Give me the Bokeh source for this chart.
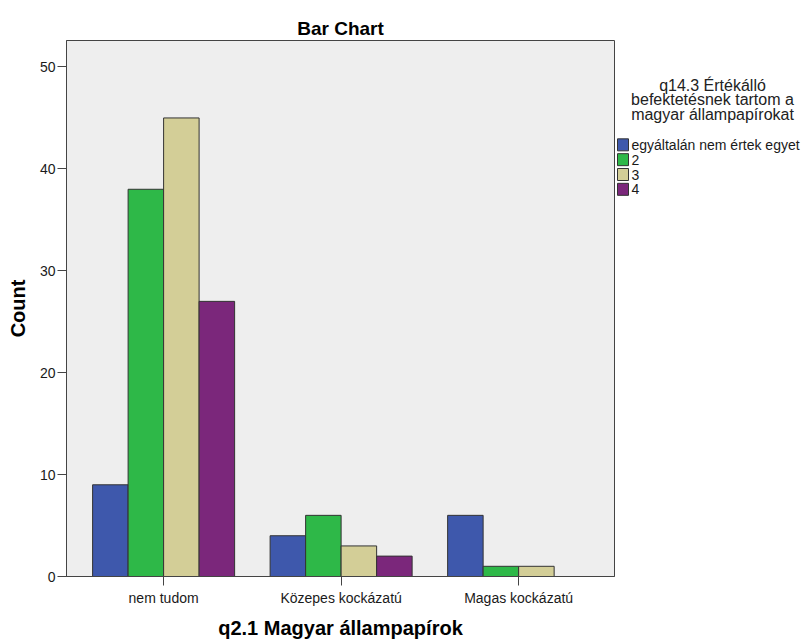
from bokeh.plotting import figure
from bokeh.layouts import row
from bokeh.models import Range1d, FixedTicker, ColumnDataSource
from bokeh.core.properties import value
from bokeh.embed import file_html
from bokeh.resources import INLINE

categories = ["nem tudom", "Közepes kockázatú", "Magas kockázatú"]
series_names = ["egyáltalán nem értek egyet", "2", "3", "4"]
s1 = [9, 4, 6]
s2 = [38, 6, 1]
s3 = [45, 3, 1]
s4 = [27, 2, None]
colors = ["#3E58AC", "#2EB848", "#D3CE97", "#7B277B"]
y_ticks = [0, 10, 20, 30, 40, 50]
legend_title_lines = ["q14.3 Értékálló", "befektetésnek tartom a", "magyar állampapírokat"]

FONT = "Liberation Sans"

p = figure(width=616, height=641, output_backend="svg", toolbar_location=None,
           x_range=Range1d(-0.547, 2.54), y_range=Range1d(0, 52.6),
           min_border_left=66, min_border_right=2, min_border_top=40, min_border_bottom=59,
           title="Bar Chart")
p.background_fill_color = "#EEEEEE"
p.border_fill_color = "white"
p.outline_line_color = "#444444"
p.outline_line_width = 1
p.xgrid.visible = False
p.ygrid.visible = False

p.title.align = "center"
p.title.text_font = FONT
p.title.text_font_size = "19px"
p.title.text_font_style = "bold"
p.title.text_color = "black"
p.title.standoff = 4

offsets = [-0.3, -0.1, 0.1, 0.3]
all_series = [s1, s2, s3, s4]
for vals, off, col in zip(all_series, offsets, colors):
    xs = [i + off for i in range(len(categories))]
    tops = [float("nan") if v is None else v for v in vals]
    src = ColumnDataSource(dict(x=xs, top=tops))
    p.vbar(x="x", top="top", bottom=0, width=0.2, source=src,
           fill_color=col, line_color="#333333", line_width=1)

p.xaxis.ticker = FixedTicker(ticks=list(range(len(categories))))
p.xaxis.major_label_overrides = {i: c for i, c in enumerate(categories)}
p.yaxis.ticker = FixedTicker(ticks=y_ticks)
for ax in (p.xaxis[0], p.yaxis[0]):
    ax.minor_tick_line_color = None
    ax.major_tick_out = 9
    ax.major_tick_in = 0
    ax.axis_line_color = "#444444"
    ax.major_tick_line_color = "#444444"
    ax.major_label_text_font = FONT
    ax.major_label_text_font_size = "14px"
    ax.major_label_text_color = "#1a1a1a"
    ax.axis_label_text_font = FONT
    ax.axis_label_text_font_size = "20px"
    ax.axis_label_text_font_style = "bold"
    ax.axis_label_text_color = "black"
p.yaxis.major_label_standoff = 2
p.xaxis.major_label_standoff = 4
p.xaxis.axis_label = "q2.1 Magyar állampapírok"
p.yaxis.axis_label = "Count"
p.xaxis.axis_label_standoff = 8
p.yaxis.axis_label_standoff = 8

# legend panel (its frame is aligned with the chart frame: y 40..582 on the page)
p2 = figure(width=192, height=641, output_backend="svg", toolbar_location=None,
            x_range=Range1d(616, 808), y_range=Range1d(582, 40),
            x_axis_location=None, y_axis_location=None,
            min_border_left=0, min_border_right=0, min_border_top=40, min_border_bottom=59)
p2.outline_line_color = None
p2.xgrid.visible = False
p2.ygrid.visible = False
p2.background_fill_color = "white"
p2.border_fill_color = "white"

title_src = ColumnDataSource(dict(x=[712] * len(legend_title_lines),
                                  y=[85 + 15 * i for i in range(len(legend_title_lines))],
                                  t=legend_title_lines))
p2.text(x="x", y="y", text="t", source=title_src, text_align="center",
        text_baseline="middle", text_font=value(FONT), text_font_size="16px",
        text_color="#222222")

row_y = [145.5 + 15 * i for i in range(len(series_names))]
leg_src = ColumnDataSource(dict(x=[622.5] * len(series_names), y=row_y,
                                tx=[631] * len(series_names),
                                name=series_names, color=colors))
p2.rect(x="x", y="y", width=11, height=12, width_units="screen", height_units="screen",
        fill_color="color", line_color="#333333", line_width=1, source=leg_src)
p2.text(x="tx", y="y", text="name", source=leg_src, text_align="left",
        text_baseline="middle", text_font=value(FONT), text_font_size="14px",
        text_color="#1a1a1a")

layout = row(p, p2, spacing=0)
open("out.html", "w").write(file_html(layout, INLINE))
